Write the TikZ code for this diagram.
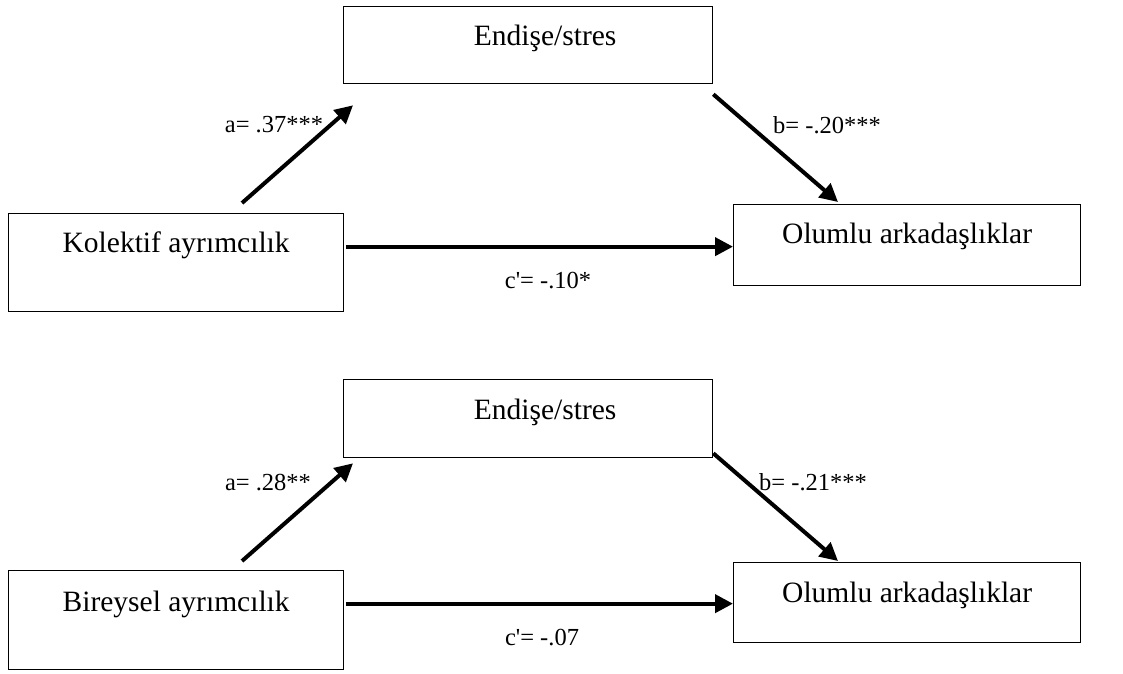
\documentclass[tikz,border=0pt]{standalone}
\usepackage{fontspec}
\setmainfont{Liberation Serif}
\usetikzlibrary{arrows.meta}

\tikzset{
  box/.style={draw, line width=1.3pt, inner sep=0pt, anchor=north west,
    text height=39pt, font=\fontsize{29.5}{35}\selectfont},
  arr/.style={line width=4pt, -{Triangle[length=18pt,width=18pt]}},
  coef/.style={inner sep=1pt, font=\fontsize{24.5}{29}\selectfont}
}

\begin{document}
\begin{tikzpicture}[x=1pt, y=-1pt]
        \useasboundingbox (0,0) rectangle (1123,673);

        % Draw boxes (first model)
        \node[box, minimum width=369pt, text depth=38pt] (end1) at (343, 6) {\hspace*{34pt}Endişe/stres};
        \node[box, minimum width=335pt, text depth=59pt] (kol1) at (8, 213) {Kolektif ayrımcılık};
        \node[box, minimum width=347pt, text depth=42pt] (olu1) at (733, 204) {Olumlu arkadaşlıklar};

        % Draw arrows (first model)
        \draw[arr] ([xshift=234pt, yshift=10pt]kol1.north west) -- ([xshift=10pt, yshift=-21pt]end1.south west);
        \draw[arr] ([yshift=-10pt]end1.south east) -- ([xshift=105pt, yshift=2pt]olu1.north west);
        \draw[arr] ([xshift=2pt, yshift=16pt]kol1.east) -- ([yshift=-1.5pt]olu1.west);

        % Coefficients (first model)
        \node[coef] (a1) at (274, 125) {a= .37***};
        \node[coef] (b1) at (827, 125) {b= -.20***};
        \node[coef] (c1) at (548, 281) {c\textquotesingle= -.10*};

        % Draw boxes (second model)
        \node[box, minimum width=369pt, text height=40pt, text depth=38pt] (end2) at (343, 379) {\hspace*{34pt}Endişe/stres};
        \node[box, minimum width=335pt, text height=41pt, text depth=58pt] (bir2) at (8, 570) {Bireysel ayrımcılık};
        \node[box, minimum width=347pt, text height=40pt, text depth=40pt] (olu2) at (733, 562) {Olumlu arkadaşlıklar};

        % Draw arrows (second model)
        \draw[arr] ([xshift=234pt, yshift=9pt]bir2.north west) -- ([xshift=10pt, yshift=-5pt]end2.south west);
        \draw[arr] ([yshift=5pt]end2.south east) -- ([xshift=105pt, yshift=1pt]olu2.north west);
        \draw[arr] ([xshift=2pt, yshift=16.5pt]bir2.east) -- ([yshift=-1pt]olu2.west);

        % Coefficients (second model)
        \node[coef] (a2) at (268, 483) {a= .28**};
        \node[coef] (b2) at (813, 482) {b= -.21***};
        \node[coef] (c2) at (542, 638) {c\textquotesingle= -.07};
\end{tikzpicture}
\end{document}
